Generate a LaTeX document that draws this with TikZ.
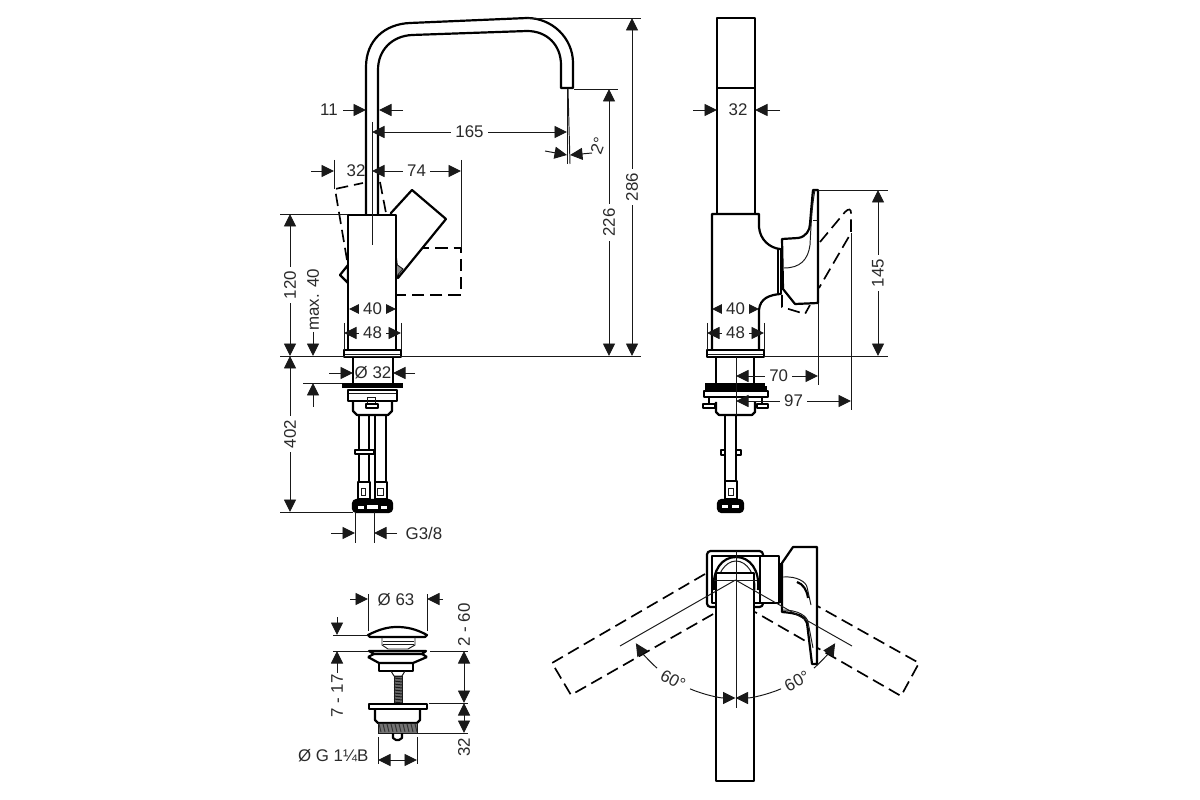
\documentclass[tikz,border=0pt]{standalone}
\usepackage{fontspec}
\setmainfont{Liberation Sans}
\usetikzlibrary{arrows.meta}
\definecolor{inkgrey}{HTML}{2A2A2A}
\tikzset{
  body/.style={line width=1.25pt,black,line join=round},
  bodyw/.style={body,fill=white},
  fine/.style={line width=0.55pt,black!90},
  dashln/.style={line width=0.95pt,black,dash pattern=on 7pt off 3.4pt},
  tip/.tip={Triangle[length=2.5mm,width=2.4mm]},
  dimto/.style={fine,-{tip}},
  dimboth/.style={fine,{tip}-{tip}},
  lbl/.style={font=\fontsize{9.6}{11}\selectfont,text=inkgrey,inner sep=2.4pt},
  lblw/.style={lbl,fill=white},
}
\begin{document}
\begin{tikzpicture}[x=0.02cm,y=-0.02cm]
\useasboundingbox (0,0) rectangle (1200,800);
\fill[white] (0,0) rectangle (1200,800);
% left view, spout
\draw[body] (366,214) -- (366,67) .. controls (366,40) and (385,24) .. (410,23) -- (527,18) .. controls (552,18) and (573,38) .. (573,63) -- (573,88) -- (561,88) -- (561,65) .. controls (561,45) and (547,31) .. (527,31) -- (412,35) .. controls (392,36) and (378,50) .. (378,70) -- (378,214);
\draw[fine] (567,89) -- (567,164);
\draw[fine] (568,89) -- (570,164);
% left view, lever
\draw[dashln] (347,260) -- (335,189) -- (363,183);
\draw[dashln] (380,182) -- (386,213);
\draw[dashln] (417,248) -- (461,248) -- (461,295) -- (397,295);
\draw[bodyw] (391,213) -- (412,190) -- (446,219) -- (398,278) -- cycle;
\draw[bodyw] (348,265) -- (340,275) -- (348,283) -- cycle;
\draw[fine,fill=black!45] (396,264) -- (403,269) -- (396,277) -- cycle;
\draw[bodyw] (348,215) rectangle (396,350);
\draw[bodyw] (344,350) rectangle (401,357);
\draw[fine] (345,354) -- (400,354);
% left view, under the deck
\draw[body] (353,357) -- (353,383);
\draw[body] (393,357) -- (393,383);
\fill[black] (342,383) rectangle (403,388);
\draw[body] (348,390) rectangle (397,401);
\draw[fine] (349,393) -- (396,393);
\draw[body] (353,401) -- (353,411) -- (357,415) -- (388,415) -- (392,411) -- (392,401);
\draw[fine] (367,397) rectangle (375,403);
\draw[body] (366,404) rectangle (378,408);
\draw[body] (359,415) -- (359,482);
\draw[body] (369,415) -- (369,450);
\draw[body] (369,454) -- (369,482);
\draw[body] (375,415) -- (375,482);
\draw[body] (386,415) -- (386,482);
\draw[bodyw] (355,450) rectangle (374,454);
\draw[body] (358,482) rectangle (370,499);
\draw[body] (375,482) rectangle (387,499);
\draw[fine] (361,488) rectangle (365,495);
\draw[fine] (377,488) rectangle (383,495);
\draw[body,fill=black,rounded corners=2pt] (353,500) rectangle (392,512);
\fill[white] (358,506) rectangle (364,509);
\fill[white] (367,505) rectangle (378,509);
\fill[white] (381,506) rectangle (387,509);
% left view, extension lines
\draw[fine] (372,122) -- (372,245);
\draw[fine] (280,214) -- (348,214);
\draw[fine] (280,356) -- (641,356);
\draw[fine] (527,18) -- (641,18);
\draw[fine] (574,89) -- (618,89);
\draw[fine] (461,160) -- (461,248);
\draw[fine] (334,160) -- (334,189);
\draw[fine] (344,323) -- (344,350);
\draw[fine] (401,323) -- (401,350);
\draw[fine] (280,512) -- (353,512);
\draw[fine] (303,383) -- (342,383);
\draw[fine] (355,512) -- (355,543);
\draw[fine] (374,512) -- (374,543);
% left view, dimensions
\draw[dimboth] (632,18) -- node[lblw,rotate=90] (t286) {286} (632,356);
\draw[dimboth] (609,89) -- node[lblw,rotate=90] (t226) {226} (609,356);
\draw[dimboth] (290,214) -- node[lblw,rotate=90] (t120) {120} (290,356);
\draw[dimboth] (290,356) -- node[lblw,rotate=90,pos=0.5] (t402) {402} (290,512);
\draw[dimto] (313,332) -- (313,356);
\node[lbl,rotate=90] (tmax) at (313,300) {max. 40};
\draw[dimto] (313,407) -- (313,383);
\node[lbl] (t11) at (329,110) {11};
\draw[dimto] (343,110) -- (366,110);
\draw[dimto] (403,110) -- (379,110);
\draw[dimboth] (372,132) -- node[lblw] (t165) {165} (567,132);
\draw[dimto] (545,151) -- (567,155);
\draw[dimto] (592,153) -- (570,155);
\node[lbl,rotate=70] (tdeg) at (598,146) {2°};
\draw[dimto] (311,171) -- (334,171);
\node[lbl] (t32a) at (356,171) {32};
\draw[dimboth] (372,171) -- node[lblw,pos=0.5] (t74) {74} (461,171);
\draw[dimboth] (349,309) -- node[lblw] (t40a) {40} (396,309);
\draw[dimboth] (344,333) -- node[lblw] (t48a) {48} (401,333);
\node[lbl] (td32) at (373,373) {Ø 32};
\draw[dimto] (329,373) -- (353,373);
\draw[dimto] (415,373) -- (393,373);
\draw[dimto] (331,533) -- (355,533);
\draw[dimto] (397,533) -- (374,533);
\node[lbl] (tg38) at (424,533) {G3/8};
% right view
\draw[body] (717,214) -- (717,18) -- (755,18) -- (755,214);
\draw[body] (717,88) -- (755,88);
\draw[body] (712,350) -- (712,214) -- (759,214) -- (759,227) .. controls (760,240) and (770,248) .. (780,249);
\draw[body] (780,294) .. controls (770,295) and (760,298) .. (759,310) -- (759,350);
\draw[body] (778,249) rectangle (781,294);
\draw[dashln] (782,295) -- (782,307) -- (805,314) -- (810,305);
\draw[dashln] (820,242) -- (845,212) .. controls (849,208) and (851,209) .. (851,213) -- (851,233) -- (819,288);
\draw[bodyw] (782,239) -- (798,238) .. controls (806,237) and (810,230) .. (810,224) .. controls (811,212) and (812,200) .. (813,190) -- (818,190) -- (818,303) -- (795,304) -- (783,289) -- cycle;
\draw[fine] (784,268) .. controls (800,268) and (808,260) .. (810,245) .. controls (811,225) and (812,205) .. (815,190);
\draw[fine] (813,220) -- (818,220);
\draw[bodyw] (707,350) rectangle (764,357);
\draw[fine] (708,354) -- (763,354);
\draw[body] (716,357) -- (716,383);
\draw[body] (754,357) -- (754,383);
\fill[black] (705,383) rectangle (767,390);
\draw[body] (704,391) rectangle (768,397);
\draw[body] (709,397) -- (709,404);
\draw[body] (762,397) -- (762,404);
\draw[body] (703,404) rectangle (715,408);
\draw[body] (757,404) rectangle (768,408);
\draw[bodyw] (716,402) -- (716,412) -- (719,415) -- (752,415) -- (755,412) -- (755,402);
\draw[body] (725,415) -- (725,481);
\draw[body] (736,415) -- (736,481);
\draw[body] (721,450) rectangle (725,455);
\draw[body] (736,450) rectangle (741,455);
\draw[body] (725,481) rectangle (737,499);
\draw[fine] (728,488) rectangle (733,495);
\draw[body,fill=black,rounded corners=2pt] (718,500) rectangle (743,512);
\fill[white] (722,505) rectangle (728,508);
\fill[white] (732,505) rectangle (739,508);
% right view, extension lines and dimensions
\draw[fine] (818,190) -- (888,190);
\draw[fine] (764,356) -- (888,356);
\draw[fine] (818,303) -- (818,385);
\draw[fine] (851,233) -- (851,410);
\draw[fine] (736,357) -- (736,415);
\draw[fine] (707,323) -- (707,350);
\draw[fine] (764,323) -- (764,350);
\draw[dimboth] (878,190) -- node[lblw,rotate=90] (t145) {145} (878,356);
\draw[dimboth] (712,309) -- node[lblw] (t40b) {40} (759,309);
\draw[dimboth] (707,333) -- node[lblw] (t48b) {48} (764,333);
\draw[dimboth] (736,376) -- node[lblw,pos=0.52] (t70) {70} (818,376);
\draw[dimboth] (736,401) -- node[lblw,pos=0.5] (t97) {97} (851,401);
\draw[dimto] (693,110) -- (717,110);
\draw[dimto] (780,110) -- (755,110);
\node[lbl] (t32b) at (738,110) {32};
% waste set
\draw[fine] (368,594) -- (368,631);
\draw[fine] (427,594) -- (427,631);
\draw[dimto] (350,599) -- (368,599);
\draw[dimto] (443,599) -- (427,599);
\node[lbl] (td63) at (396,600) {Ø 63};
\draw[body] (368,635) .. controls (380,629) and (388,627) .. (397,627) .. controls (407,627) and (416,629) .. (427,635) -- (425,637) -- (370,637) -- cycle;
\draw[fine] (382,637) -- (382,645) -- (388,649) -- (408,649) -- (415,645) -- (415,637);
\draw[fine] (383,641) -- (414,641);
\draw[fine] (383,644) -- (414,644);
\draw[body] (369,651) -- (426,651) -- (422,654) -- (374,654) -- cycle;
\draw[body] (368,657) -- (374,654);
\draw[body] (427,657) -- (422,654);
\draw[body] (368,657) -- (379,663) -- (413,663) -- (427,657);
\draw[body] (379,663) -- (379,671) -- (413,671) -- (413,663);
\draw[fine] (391,671) -- (394,676) -- (402,676) -- (405,671);
\draw[fine,fill=black!60] (394,676) rectangle (402,704);
\foreach \yy in {678,681,...,702} {
  \draw[fine] (394,\yy) -- (402,\yy+1);
}
\draw[body] (369,704) rectangle (427,709);
\draw[body] (375,709) -- (375,720) -- (378,723) -- (417,723) -- (420,720) -- (420,709);
\draw[fine,fill=black!55] (378,723) rectangle (417,733);
\foreach \xx in {379,383,...,415} {
  \draw[fine,black!80] (\xx,724) -- (\xx+2,732);
}
\draw[body] (393,733) -- (393,738) -- (396,740) -- (399,740) -- (402,738) -- (402,733);
\draw[fine] (333,635) -- (368,635);
\draw[fine] (333,651) -- (369,651);
\draw[fine] (430,651) -- (468,651);
\draw[fine] (429,703) -- (468,703);
\draw[fine] (418,733) -- (468,733);
\draw[fine] (378,737) -- (378,764);
\draw[fine] (417,737) -- (417,764);
\draw[dimto] (337,617) -- (337,635);
\draw[dimto] (337,673) -- (337,651);
\node[lbl,rotate=90] (t217a) at (337,696) {7 - 17};
\node[lbl,rotate=90] (t260a) at (464,625) {2 - 60};
\draw[dimboth] (464,651) -- (464,703);
\draw[dimboth] (464,703) -- (464,733);
\node[lbl,rotate=90] (t32c) at (464,747) {32};
\draw[dimboth] (378,760) -- (417,760);
\node[lbl,anchor=east] (tg114) at (373,756) {Ø G 1¼B};
% plan view
\coordinate (pvt) at (735.5,580);
\draw[dashln] (705,574) -- (552,663) -- (571,695) -- (715,613);
\draw[dashln] (762,575) -- (919,663) -- (901,696) -- (755,612);
\draw[body,rounded corners=2pt] (707,551) rectangle (763,607);
\draw[body] (712,556) -- (760,556) -- (760,603) -- (712,603) -- cycle;
\draw[bodyw] (760,556) rectangle (779,603);
\draw[body] (781,563) -- (781,603);
\draw[bodyw] (782,563) -- (793,547) -- (817,547) -- (817,664) -- (812,664) -- (807,623) .. controls (805,616) and (797,613) .. (782,612) -- cycle;
\draw[body] (797,582) .. controls (803,584) and (807,590) .. (808,598);
\draw[fine] (783,577) .. controls (797,576) and (806,582) .. (807,587) -- (811,605);
\draw[fine] (783,610) .. controls (798,610) and (807,616) .. (808,622) -- (813,648);
\draw[body] (714,590) .. controls (712,570) and (722,557) .. (736,557) .. controls (750,557) and (760,570) .. (758,590);
\draw[fine] (717,590) .. controls (716,575) and (725,561) .. (736,561) .. controls (747,561) and (756,575) .. (755,590);
\draw[bodyw] (716,781) -- (716,573) -- (754,573) -- (754,781) -- cycle;
\draw[fine] (714,580) -- (757,580);
\draw[fine] (736,551) -- (736,708);
\draw[fine] (pvt) -- (620,646);
\draw[fine] (pvt) -- (852,646);
\draw[dimto] (pvt) ++(112.7:118) arc (112.7:90:118);
\draw[dimto] (pvt) ++(67.3:118) arc (67.3:90:118);
\draw[fine,-{tip}] (pvt) ++(131.7:118) arc (131.7:147.6:118);
\draw[fine,-{tip}] (pvt) ++(48.3:118) arc (48.3:32.4:118);
\node[lbl,rotate=-28] (t60a) at (673,680) {60°};
\node[lbl,rotate=28] (t60b) at (797,681) {60°};
\end{tikzpicture}
\end{document}
